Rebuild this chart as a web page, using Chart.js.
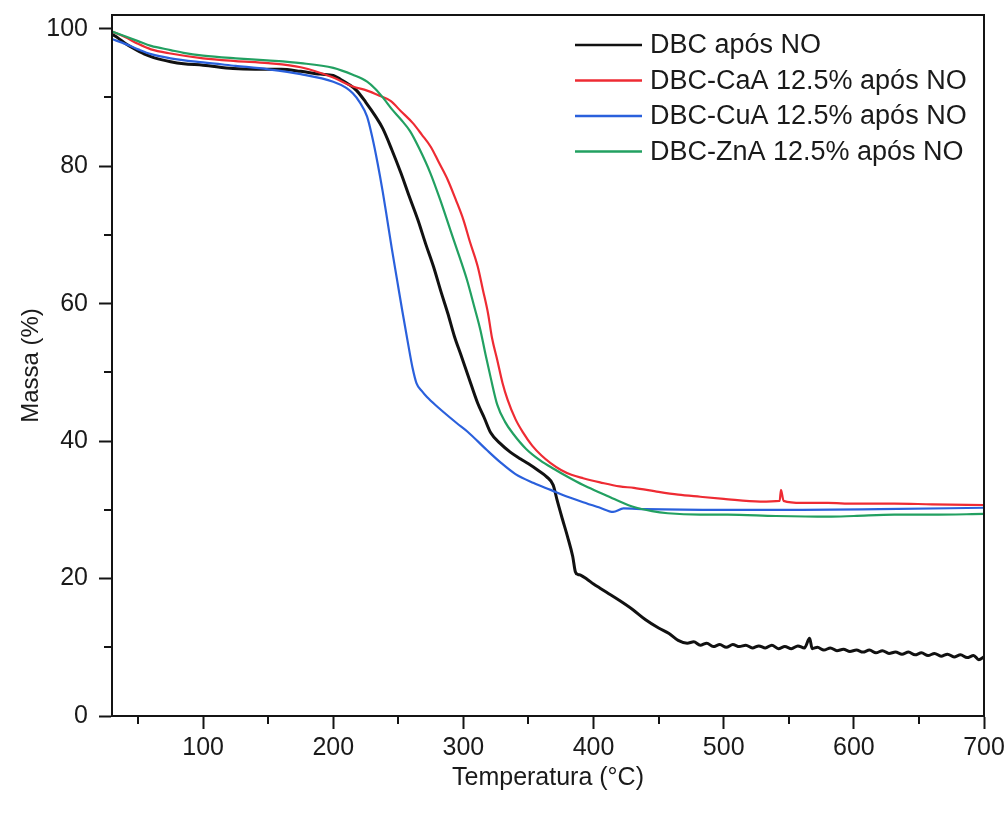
<!DOCTYPE html>
<html>
<head>
<meta charset="utf-8">
<script src="https://cdn.jsdelivr.net/npm/chart.js@4/dist/chart.umd.min.js"></script>
<style>
  html, body { margin: 0; padding: 0; background: #fff; }
  canvas { display: block; }
</style>
</head>
<body>
<canvas id="tga" width="1008" height="820"></canvas>
<script>
// Thermogravimetric curves (mass % vs temperature) after NO exposure

const seriesNames = [
  'DBC após NO',
  'DBC-CaA 12.5% após NO',
  'DBC-CuA 12.5% após NO',
  'DBC-ZnA 12.5% após NO'
];

// DBC após NO
const tempDBC = [30, 35, 40, 46, 55, 62, 75, 85, 100, 123, 140, 160, 175, 190, 200, 205, 212, 218, 225, 232, 238,
  245, 252, 258, 265, 271, 277, 283, 288, 293, 298, 304, 311, 316, 321, 328, 336, 344, 350, 357, 364, 369,
  372, 376, 380, 384, 386, 388, 390, 395, 400, 405, 410, 420, 430, 440, 450, 458, 465, 472, 477, 482, 487, 492, 497,
  502, 507, 512, 517, 522, 527, 532, 537, 542, 547, 552, 557, 562, 566, 568, 572, 577, 582, 587, 592, 597,
  602, 607, 612, 617, 622, 627, 632, 637, 642, 647, 652, 657, 662, 667, 672, 677, 682, 687, 692, 696, 700];
const massDBC = [99.2, 98.6, 97.9, 97.2, 96.3, 95.8, 95.2, 94.9, 94.7, 94.2, 94.1, 94.1, 93.8, 93.4, 93.2, 92.7, 91.9, 91.0, 89.3, 87.4, 85.5,
  82.4, 79.0, 75.8, 72.2, 68.7, 65.4, 61.6, 58.6, 55.3, 52.6, 49.3, 45.5, 43.4, 41.2, 39.7, 38.4, 37.4, 36.7, 35.8, 34.8, 33.6,
  31.4, 28.7, 26.1, 23.2, 21.0, 20.6, 20.5, 19.9, 19.2, 18.6, 18.0, 16.8, 15.5, 14.0, 12.8, 12.0, 11.0, 10.6, 10.8, 10.3, 10.6, 10.1, 10.4,
  10.0, 10.4, 10.1, 10.3, 9.9, 10.2, 9.9, 10.3, 9.8, 10.1, 9.8, 10.2, 9.9, 11.3, 9.8, 10.0, 9.6, 9.9, 9.5, 9.7, 9.4,
  9.6, 9.3, 9.6, 9.2, 9.5, 9.1, 9.3, 9.0, 9.3, 8.9, 9.2, 8.8, 9.1, 8.7, 9.0, 8.6, 8.9, 8.5, 8.8, 8.2, 8.6];

// DBC-CaA 12.5% após NO
const tempCaA = [30, 40, 50, 60, 75, 100, 125, 150, 175, 200, 215, 226, 235, 244, 252, 261, 268, 275, 281, 288, 294,
  300, 305, 311, 315, 319, 322, 326, 330, 334, 340, 346, 353, 360, 367, 375, 383, 392, 405, 420, 431, 450, 465,
  482, 500, 528, 543, 544, 546, 560, 580, 600, 631, 660, 700];
const massCaA = [99.6, 98.8, 97.8, 97.0, 96.4, 95.7, 95.3, 95.0, 94.4, 92.9, 91.6, 91.0, 90.3, 89.5, 88.0, 86.3, 84.6, 82.8, 80.6, 78.0, 75.2,
  72.2, 69.0, 65.4, 62.0, 58.5, 55.0, 51.8, 48.5, 46.0, 43.2, 41.2, 39.3, 37.9, 36.8, 35.8, 35.1, 34.6, 34.0, 33.4, 33.2, 32.6, 32.2,
  31.9, 31.6, 31.2, 31.3, 32.9, 31.3, 31.0, 31.0, 30.9, 30.9, 30.8, 30.7];

// DBC-CuA 12.5% após NO
const tempCuA = [30, 40, 50, 60, 75, 100, 125, 150, 175, 200, 210, 215, 220, 226, 230, 234, 238, 241.5, 245, 249, 253,
  257, 261, 264, 268, 272, 280, 295, 303, 318, 328.5, 340, 354, 367, 380, 392, 405, 415, 423, 440, 500, 560, 620, 700];
const massCuA = [98.5, 97.8, 97.0, 96.3, 95.7, 95.1, 94.6, 94.1, 93.4, 92.3, 91.4, 90.6, 89.4, 87.2, 84.2, 80.5, 76.3, 72.2, 68.0, 63.5, 59.0,
  54.7, 50.6, 48.4, 47.3, 46.4, 45.0, 42.6, 41.4, 38.7, 36.9, 35.2, 33.9, 32.9, 31.9, 31.1, 30.3, 29.7, 30.2, 30.1, 30.0, 30.0, 30.1, 30.3];

// DBC-ZnA 12.5% após NO
const tempZnA = [30, 40, 50, 60, 75, 85, 100, 125, 149, 175, 200, 215, 226, 232, 238.5, 245, 252, 259, 266, 274.6, 282,
  290, 297, 303, 308, 313, 317, 321, 326, 332, 338.5, 348, 359, 370, 380, 392, 405, 418, 431, 445, 457, 482,
  503, 540, 580, 600, 631, 660, 700];
const massZnA = [99.6, 98.9, 98.2, 97.5, 96.9, 96.5, 96.1, 95.7, 95.4, 95.0, 94.3, 93.3, 92.3, 91.3, 89.9, 88.3, 86.8, 85.1, 82.6, 79.0, 75.2,
  70.7, 66.8, 63.3, 59.8, 56.2, 52.6, 49.2, 45.3, 42.8, 41.0, 38.9, 37.2, 35.9, 34.8, 33.6, 32.5, 31.4, 30.4, 29.8, 29.5, 29.3,
  29.3, 29.1, 29.0, 29.1, 29.3, 29.3, 29.4];

// Axis ticks
const xMajorTicks = [100, 200, 300, 400, 500, 600, 700];
const xMinorTicks = [50, 150, 250, 350, 450, 550, 650];
const yMajorTicks = [0, 20, 40, 60, 80, 100];
const yMinorTicks = [10, 30, 50, 70, 90];

const lineColors = ['#111111', '#ee2b33', '#2a60dc', '#22a061'];
const lineWidths = [3, 2.2, 2.2, 2.2];

const toPoints = (xs, ys) => xs.map((x, i) => ({ x: x, y: ys[i] }));
const seriesData = [
  toPoints(tempDBC, massDBC),
  toPoints(tempCaA, massCaA),
  toPoints(tempCuA, massCuA),
  toPoints(tempZnA, massZnA)
];

const FONT = "'Liberation Sans', Arial, Helvetica, sans-serif";
const TEXT = '#1a1a1a';
const AXIS = '#141414';

// Frame, minor ticks and in-plot legend
const decorations = {
  id: 'decorations',
  afterDraw(chart) {
    const { ctx, chartArea: a, scales } = chart;
    ctx.save();
    ctx.strokeStyle = AXIS;
    ctx.lineWidth = 2;
    ctx.strokeRect(a.left, a.top, a.right - a.left, a.bottom - a.top);

    ctx.beginPath();
    xMinorTicks.forEach(v => {
      const px = Math.round(scales.x.getPixelForValue(v));
      ctx.moveTo(px, a.bottom);
      ctx.lineTo(px, a.bottom + 8);
    });
    yMinorTicks.forEach(v => {
      const py = Math.round(scales.y.getPixelForValue(v));
      ctx.moveTo(a.left, py);
      ctx.lineTo(a.left - 8, py);
    });
    ctx.stroke();

    // legend
    const lx0 = a.left + 463, lx1 = a.left + 530, tx = a.left + 538;
    const rowY0 = a.top + 30, rowGap = 35.5;
    ctx.font = '27px ' + FONT;
    ctx.textBaseline = 'middle';
    ctx.textAlign = 'left';
    chart.data.datasets.forEach((ds, i) => {
      const y = rowY0 + i * rowGap;
      ctx.strokeStyle = ds.borderColor;
      ctx.lineWidth = 2.5;
      ctx.beginPath();
      ctx.moveTo(lx0, y);
      ctx.lineTo(lx1, y);
      ctx.stroke();
      ctx.fillStyle = TEXT;
      ctx.fillText(ds.label, tx, y + 1);
    });
    ctx.restore();
  }
};

new Chart(document.getElementById('tga'), {
  type: 'line',
  data: {
    datasets: seriesData.map((pts, i) => ({
      label: seriesNames[i],
      data: pts,
      borderColor: lineColors[i],
      backgroundColor: lineColors[i],
      borderWidth: lineWidths[i],
      pointRadius: 0,
      fill: false,
      cubicInterpolationMode: 'monotone',
      order: 3 - i
    }))
  },
  options: {
    responsive: false,
    animation: false,
    layout: { padding: { left: 0, right: 24, top: 15, bottom: 0 } },
    plugins: {
      legend: { display: false },
      tooltip: { enabled: false }
    },
    scales: {
      x: {
        type: 'linear',
        min: 30,
        max: 700,
        afterBuildTicks: s => { s.ticks = xMajorTicks.map(v => ({ value: v })); },
        afterFit: s => { s.height = 104; s.paddingLeft = 0; s.paddingRight = 0; },
        ticks: { color: TEXT, font: { family: FONT, size: 25 }, padding: 4, maxRotation: 0 },
        grid: { drawOnChartArea: false, tickLength: 13, tickColor: AXIS, tickWidth: 2 },
        border: { display: true, color: AXIS, width: 2 },
        title: {
          display: true,
          text: 'Temperatura (°C)',
          color: TEXT,
          font: { family: FONT, size: 25 },
          padding: { top: 0, bottom: 27 }
        }
      },
      y: {
        type: 'linear',
        min: 0,
        max: 102,
        afterBuildTicks: s => { s.ticks = yMajorTicks.map(v => ({ value: v })); },
        afterFit: s => { s.width = 112; s.paddingTop = 0; s.paddingBottom = 0; },
        ticks: { color: TEXT, font: { family: FONT, size: 25 }, padding: 11 },
        grid: { drawOnChartArea: false, tickLength: 13, tickColor: AXIS, tickWidth: 2 },
        border: { display: true, color: AXIS, width: 2 },
        title: {
          display: true,
          text: 'Massa (%)',
          color: TEXT,
          font: { family: FONT, size: 24 },
          padding: { top: 17, bottom: 0 }
        }
      }
    }
  },
  plugins: [decorations]
});
</script>
</body>
</html>
